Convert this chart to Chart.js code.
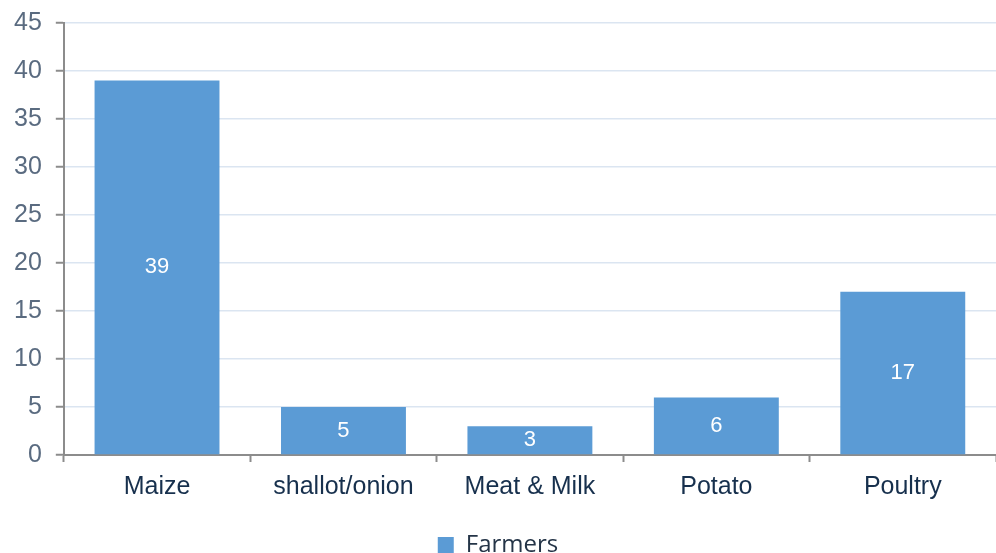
<!DOCTYPE html>
<html>
<head>
<meta charset="utf-8">
<script src="https://cdn.jsdelivr.net/npm/chart.js@4"></script>
<style>
	html, body { margin: 0; padding: 0; background: #fff; }
	#wrap { width: 996px; height: 553px; }
</style>
</head>
<body>
<div id="wrap"><canvas id="chart"></canvas></div>
<script>
// Chart data
const categories = ['Maize', 'shallot/onion', 'Meat & Milk', 'Potato', 'Poultry'];
const farmers = [39, 5, 3, 6, 17];
const yTicks = [0, 5, 10, 15, 20, 25, 30, 35, 40, 45];

// Draw value labels in middle of each bar
const barValues = {
	id: 'barValues',
	afterDatasetsDraw(chart) {
		const ctx = chart.ctx;
		const meta = chart.getDatasetMeta(0);
		ctx.save();
		ctx.fillStyle = '#ffffff';
		ctx.font = '22px "Liberation Sans", Arial, sans-serif';
		ctx.textAlign = 'center';
		ctx.textBaseline = 'middle';
		meta.data.forEach((bar, i) => {
			const mid = (bar.y + bar.base) / 2;
			ctx.fillText(String(farmers[i]), bar.x, mid);
		});
		ctx.restore();
	},
};

let ctx = document.getElementById('chart').getContext('2d');
let farmersChart = new Chart(ctx, {
	type: 'bar',
	data: {
		labels: categories,
		datasets: [
			{
				label: 'Farmers',
				backgroundColor: '#5b9bd5',
				data: farmers,
				categoryPercentage: 0.67,
				barPercentage: 1,
			},
		],
	},
	options: {
		responsive: true,
		maintainAspectRatio: false,
		animation: false,
		layout: { padding: { top: 4, right: 0, left: 0, bottom: -14 } },
		plugins: {
			legend: {
				position: 'bottom',
				labels: {
					boxWidth: 16,
					boxHeight: 16,
					padding: 4,
					color: '#243447',
					font: { family: '"Open Sans", "Liberation Sans", sans-serif', size: 24 },
				},
			},
			tooltip: { enabled: false },
		},
		scales: {
			x: {
				// extra room between category labels and legend
				afterFit: (axis) => {
					axis.height += 17;
				},
				grid: {
					offset: true,
					drawOnChartArea: false,
					tickColor: '#8c8c8c',
					tickLength: 7,
					tickWidth: 2,
				},
				border: { color: '#8c8c8c', width: 2 },
				ticks: {
					color: '#17304d',
					padding: 10,
					font: { family: '"Liberation Sans", Arial, sans-serif', size: 25 },
				},
			},
			y: {
				min: 0,
				max: 45,
				afterBuildTicks: (axis) => {
					axis.ticks = yTicks.map((v) => ({ value: v }));
				},
				grid: {
					color: '#dbe5f1',
					lineWidth: 1.5,
					tickColor: '#8c8c8c',
					tickLength: 8,
					tickWidth: 2,
				},
				border: { color: '#8c8c8c', width: 2 },
				ticks: {
					color: '#5a6b80',
					padding: 14,
					font: { family: '"Liberation Sans", Arial, sans-serif', size: 25, lineHeight: 0.72 },
				},
			},
		},
	},
	plugins: [barValues],
});
</script>
</body>
</html>
